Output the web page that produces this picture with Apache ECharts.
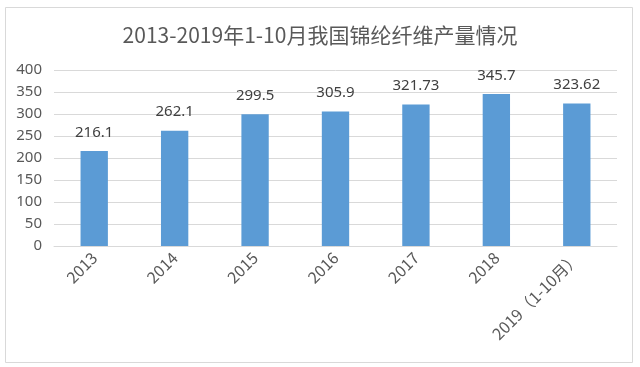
<!DOCTYPE html>
<html><head><meta charset="utf-8">
<script src="https://cdn.jsdelivr.net/npm/echarts@6/dist/echarts.min.js"></script>
<style>html,body{margin:0;padding:0;background:#fff}#c{width:640px;height:367px}</style>
</head><body><div id="c"></div>
<script>
var categories = ['2013','2014','2015','2016','2017','2018','2019（1-10月）'];
var values = [216.1, 262.1, 299.5, 305.9, 321.73, 345.7, 323.62];
var yTicks = [0,50,100,150,200,250,300,350,400];
var titleText = '2013-2019年1-10月我国锦纶纤维产量情况';

var chart = echarts.init(document.getElementById('c'));
chart.setOption({
  backgroundColor: '#fff',
  animation: false,
  graphic: [{type:'rect', shape:{x:5.5,y:7.5,width:627,height:355}, style:{fill:'none', stroke:'#d9d9d9', lineWidth:1}}],
  title: {text: titleText, left: 'center', top: 20, textStyle:{fontFamily:'Noto Sans CJK SC', fontWeight:'normal', fontSize:21, color:'#595959'}},
  grid: {left: 54, right: 23, top: 70, bottom: 121},
  xAxis: {type:'category', data: categories,
    axisLine:{lineStyle:{color:'#d9d9d9'}}, axisTick:{show:false},
    axisLabel:{rotate:45, interval:0, fontFamily:'Noto Sans CJK SC', fontSize:16, color:'#595959', margin:9}},
  yAxis: {type:'value', min:yTicks[0], max:yTicks[yTicks.length-1], interval:50,
    axisLine:{show:false}, axisTick:{show:false},
    splitLine:{lineStyle:{color:'#d9d9d9'}},
    axisLabel:{fontFamily:'Noto Sans', fontSize:15, color:'#595959', margin:12}},
  series: [{type:'bar', data: values, barWidth:'34%', itemStyle:{color:'#5B9BD5'},
    label:{show:true, position:'top', distance:11, fontFamily:'Noto Sans', fontSize:15, color:'#404040'}}]
});
</script></body></html>
